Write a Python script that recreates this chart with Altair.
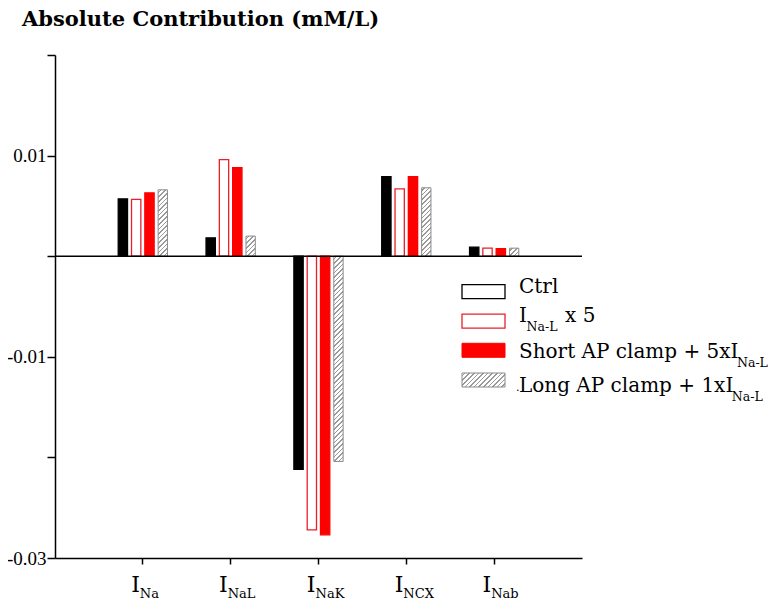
import altair as alt
import pandas as pd

# ---------------- data ----------------
categories = ["INa", "INaL", "INaK", "INCX", "INab"]
cat_sub = ["Na", "NaL", "NaK", "NCX", "Nab"]
series = ["Ctrl", "INaL x 5", "Short AP clamp + 5xINaL", "Long AP clamp + 1xINaL"]
ctrl = [0.0057, 0.00183, -0.0212, 0.0079, 0.0009]
inal5 = [0.00564, 0.0096, -0.0272, 0.0067, 0.0008]
short_ap = [0.0063, 0.0088, -0.0277, 0.0079, 0.00075]
long_ap = [0.0066, 0.0020, -0.0204, 0.0068, 0.0008]

y_ticks = [0.02, 0.01, 0, -0.01, -0.02, -0.03]
y_labels = {0.01: "0.01", -0.01: "-0.01", -0.03: "-0.03"}

legend_main = ["Ctrl", "I", "Short AP clamp + 5xI", "Long AP clamp + 1xI"]
legend_sub = ["", "Na-L", "Na-L", "Na-L"]
legend_tail = ["", "x 5", "", ""]
legend_lead = ["", "", "", "."]
title_text = "Absolute Contribution (mM/L)"

# ---------------- layout / style ----------------
W, H = 527, 503
YMIN, YMAX = -0.03, 0.02
FONT = "DejaVu Serif"
RED = "#ff0000"
RED_LINE = "#e8202a"
HATCH_STROKE = "#8a8a8a"

X_PI = 0.394
X_PO = (1 + X_PI) / 2
XO_PI, XO_PO = 0.3, 0.15


def hatch_fill(w, h, period=4.6, thick=1.15, color="#9a9a9a", bg="#ffffff"):
    total = w + h
    k = total / (w * w + h * h)
    lw = thick * 1.414
    stops = [alt.GradientStop(offset=0, color=bg)]
    pos = period / 2
    while pos < total:
        s = pos / total
        e = min((pos + lw) / total, 1.0)
        stops += [
            alt.GradientStop(offset=s, color=bg),
            alt.GradientStop(offset=s, color=color),
            alt.GradientStop(offset=e, color=color),
            alt.GradientStop(offset=e, color=bg),
        ]
        pos += period
    stops.append(alt.GradientStop(offset=1, color=bg))
    return alt.LinearGradient(gradient="linear", stops=stops, x1=0, y1=0, x2=k * w, y2=k * h)


label_expr = " : ".join(
    f"abs(datum.value - ({v})) < 1e-9 ? '{t}'" for v, t in y_labels.items()
) + " : ''"

xscale = alt.Scale(domain=categories, paddingInner=X_PI, paddingOuter=X_PO)
xoff_scale = alt.Scale(domain=series, paddingInner=XO_PI, paddingOuter=XO_PO)
yscale = alt.Scale(domain=[YMIN, YMAX], nice=False, zero=False)

xaxis = alt.Axis(labels=False, title=None, tickSize=6, tickWidth=1.5, domainWidth=1.5,
                 domainColor="black", tickColor="black", bandPosition=0.5, grid=False)
yaxis = alt.Axis(values=y_ticks, labelExpr=label_expr, title=None, tickSize=8, tickWidth=1.5,
                 domainWidth=1.5, domainColor="black", tickColor="black", grid=False,
                 labelFont="Liberation Serif", labelFontSize=19, labelColor="black", labelPadding=1)

X = alt.X("cat:N", scale=xscale, axis=xaxis)
XO = alt.XOffset("series:N", scale=xoff_scale)
Y = alt.Y("value:Q", scale=yscale, axis=yaxis, stack=None)
Y2 = alt.Y2(datum=0)

rows = []
for s, vals in zip(series[:3], [ctrl, inal5, short_ap]):
    for c, v in zip(categories, vals):
        rows.append({"cat": c, "series": s, "value": v})
df = pd.DataFrame(rows)

bars = alt.Chart(df).mark_bar(strokeWidth=1.3).encode(
    x=X, xOffset=XO, y=Y, y2=Y2,
    fill=alt.Fill("series:N", scale=alt.Scale(domain=series[:3], range=["#000000", "#ffffff", RED]), legend=None),
    stroke=alt.Stroke("series:N", scale=alt.Scale(domain=series[:3], range=["#000000", RED_LINE, RED]), legend=None),
)

layers = [bars]

x_step = W / (5 - X_PI + 2 * X_PO)
band = x_step * (1 - X_PI)
step = band / (4 - XO_PI + 2 * XO_PO)
bw = step * (1 - XO_PI)
for c, v in zip(categories, long_ap):
    hpx = abs(v) * H / (YMAX - YMIN)
    d = pd.DataFrame({"cat": [c], "series": [series[3]], "value": [v]})
    layers.append(
        alt.Chart(d).mark_bar(fill=hatch_fill(bw, hpx), stroke=HATCH_STROKE, strokeWidth=1).encode(
            x=X, xOffset=XO, y=Y, y2=Y2
        )
    )

zero = alt.Chart(pd.DataFrame({"value": [0]})).mark_rule(color="black", strokeWidth=1.5).encode(y=Y)
layers.append(zero)

# x-axis labels with subscripts
df_lab = pd.DataFrame({"cat": categories, "sub": cat_sub})
layers.append(
    alt.Chart(df_lab).mark_text(text="I", align="right", baseline="alphabetic", dx=-3,
                                font=FONT, fontSize=22, color="black").encode(x=X, y=alt.value(H + 34))
)
layers.append(
    alt.Chart(df_lab).mark_text(align="left", baseline="alphabetic", dx=-3,
                                font=FONT, fontSize=13, color="black").encode(
        x=X, y=alt.value(H + 40), text=alt.Text("sub:N"))
)

# legend
one = pd.DataFrame({"k": [0]})
LEG_FS, LEG_SUB_FS = 20, 12.5
box_x0, box_x1 = 407, 450
text_x = 464
box_cy = [236.7, 266.2, 295.3, 325.0]
text_base = [237.7, 267.0, 303.0, 336.5]
main_w = [0, 7.6, 218.0, 212.8]
box_styles = [
    dict(fill="#ffffff", stroke="#000000", strokeWidth=1.3),
    dict(fill="#ffffff", stroke=RED_LINE, strokeWidth=1.3),
    dict(fill=RED, stroke=RED, strokeWidth=1),
    dict(fill=hatch_fill(box_x1 - box_x0, 14), stroke=HATCH_STROKE, strokeWidth=1),
]
for i in range(4):
    cy = box_cy[i]
    tb = text_base[i]
    layers.append(
        alt.Chart(one).mark_rect(**box_styles[i]).encode(
            x=alt.value(box_x0), x2=alt.value(box_x1), y=alt.value(cy - 7), y2=alt.value(cy + 7))
    )
    layers.append(
        alt.Chart(one).mark_text(text=legend_main[i], align="left", baseline="alphabetic",
                                 font=FONT, fontSize=LEG_FS, color="black").encode(
            x=alt.value(text_x), y=alt.value(tb))
    )
    if legend_lead[i]:
        layers.append(
            alt.Chart(one).mark_text(text=legend_lead[i], align="left", baseline="alphabetic",
                                     font=FONT, fontSize=11, color="black").encode(
                x=alt.value(text_x - 3), y=alt.value(tb - 1))
        )
    if legend_sub[i]:
        layers.append(
            alt.Chart(one).mark_text(text=legend_sub[i], align="left", baseline="alphabetic",
                                     font=FONT, fontSize=LEG_SUB_FS, color="black").encode(
                x=alt.value(text_x + main_w[i]), y=alt.value(tb + 9))
        )
    if legend_tail[i]:
        layers.append(
            alt.Chart(one).mark_text(text=legend_tail[i], align="left", baseline="alphabetic",
                                     font=FONT, fontSize=LEG_FS, color="black").encode(
                x=alt.value(text_x + 46), y=alt.value(tb))
        )

# title
layers.append(
    alt.Chart(one).mark_text(text=title_text, align="left", baseline="alphabetic", font=FONT,
                             fontSize=21, fontWeight="bold", color="black").encode(
        x=alt.value(-33), y=alt.value(-29))
)

chart = alt.layer(*layers).properties(
    width=W, height=H,
    padding={"left": 47, "top": 47, "right": 187, "bottom": 45},
    autosize=alt.AutoSizeParams(type="none"),
).configure_view(stroke=None)

chart.save("out.html", embed_options={"renderer": "svg", "actions": False})
